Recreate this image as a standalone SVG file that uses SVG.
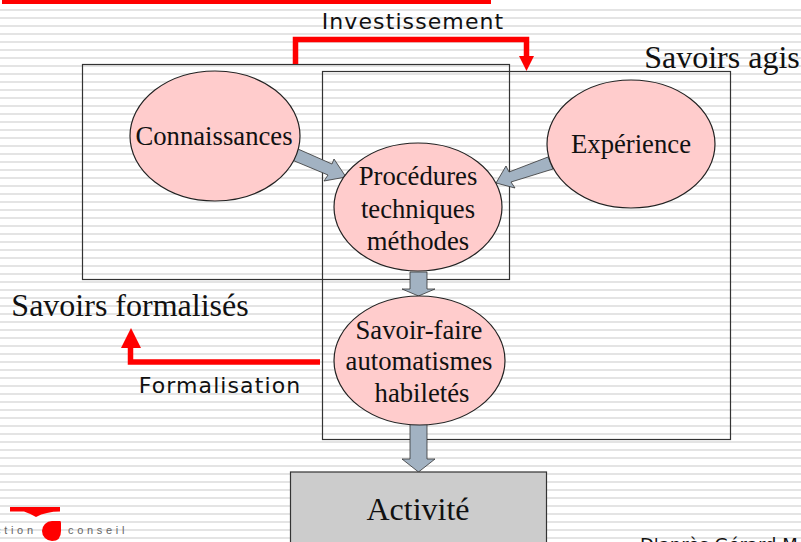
<svg xmlns="http://www.w3.org/2000/svg" width="801" height="542" viewBox="0 0 801 542">
<style>
.box{fill:none;stroke:#333;stroke-width:1.2}
.el{fill:#ffcccc;stroke:#222;stroke-width:1.2}
.ar{fill:#a2b2c2;stroke:#333;stroke-width:.8}
.red{fill:none;stroke:#f00;stroke-width:5.500}
.rh{fill:#f00}
.s{font-family:"Liberation Serif",serif;fill:#111;text-anchor:middle}
.v{font-family:"DejaVu Sans",sans-serif;fill:#111;text-anchor:middle;font-size:22px;letter-spacing:1.1px}
.lg{font-family:"Liberation Sans",sans-serif;font-size:11px;fill:#666;letter-spacing:3.700px}
</style>
<defs>
<pattern id="st" width="8" height="8" patternUnits="userSpaceOnUse" patternTransform="translate(0,1)">
<rect width="8" height="8" fill="#fff"/><rect y="0" width="8" height="2" fill="#e4e4e4"/>
</pattern>
</defs>
<rect width="801" height="542" fill="url(#st)"/>
<rect x="0" y="0" width="801" height="8" fill="#fff"/>
<rect x="2" y="0" width="489" height="4" fill="#f00"/>
<g id="logo">
<path class="rh" d="M10 507H60V511.500Q46 511.500 36 517Q30 513.500 24 511.500H10Z"/>
<path class="rh" d="M52 521H60Q61 521 61 523V531Q61 541 52 541A10 10 0 0 1 52 521Z"/>
<text class="lg" x="-5" y="534">ction</text>
<text class="lg" x="68" y="534">conseil</text>
</g>
<g id="box-formalises"><rect class="box" x="82.500" y="64.500" width="427" height="215"/></g>
<g id="box-agis"><rect class="box" x="322.500" y="71.500" width="408" height="368"/></g>
<g id="connectors">
<path class="red" d="M295.500 64V39.500H526.500V60"/>
<path class="rh" d="M519 56H534L526.500 71Z"/>
<path class="red" d="M320 362H130.500V340"/>
<path class="rh" d="M121 348L131 328L141 348Z"/>
<path class="ar" d="M298 149L332 164L334 159L346 177L324 181L328 175L292 160Z"/>
<path class="ar" d="M548 157L509 172L506 166L496 183L515 188L511 182L553 169Z"/>
<path class="ar" d="M410 272H427V289H435L418.500 296L402 289H410Z"/>
<path class="ar" d="M410 424H427V459H435L418.500 472L402 459H410Z"/>
</g>
<g id="connaissances"><ellipse class="el" cx="215" cy="136" rx="85" ry="65"/><text class="s" x="214" y="145" font-size="26.700">Connaissances</text></g>
<g id="experience"><ellipse class="el" cx="631" cy="144" rx="84" ry="64"/><text class="s" x="631" y="153" font-size="26.700">Expérience</text></g>
<g id="procedures"><ellipse class="el" cx="418" cy="207" rx="84" ry="64"/><text class="s" font-size="26.700"><tspan x="418" y="185">Procédures</tspan><tspan x="418" y="218">techniques</tspan><tspan x="418" y="250">méthodes</tspan></text></g>
<g id="savoir-faire"><ellipse class="el" cx="419.500" cy="360.500" rx="85.500" ry="64.500"/><text class="s" font-size="26.700"><tspan x="419" y="339">Savoir-faire</tspan><tspan x="419" y="370">automatismes</tspan><tspan x="422" y="402">habiletés</tspan></text></g>
<g id="activite"><rect x="290.500" y="472" width="256" height="75" fill="#cccccc" stroke="#333" stroke-width="1.2"/><text class="s" x="418" y="520" font-size="32">Activité</text></g>
<text class="v" x="413" y="29">Investissement</text>
<text class="v" x="220" y="393">Formalisation</text>
<text class="s" x="722" y="68" font-size="32">Savoirs agis</text>
<text class="s" x="130" y="316" font-size="32">Savoirs formalisés</text>
<text x="640" y="551" font-family="DejaVu Sans,sans-serif" font-size="18" fill="#111">D'après Gérard M</text>
</svg>
